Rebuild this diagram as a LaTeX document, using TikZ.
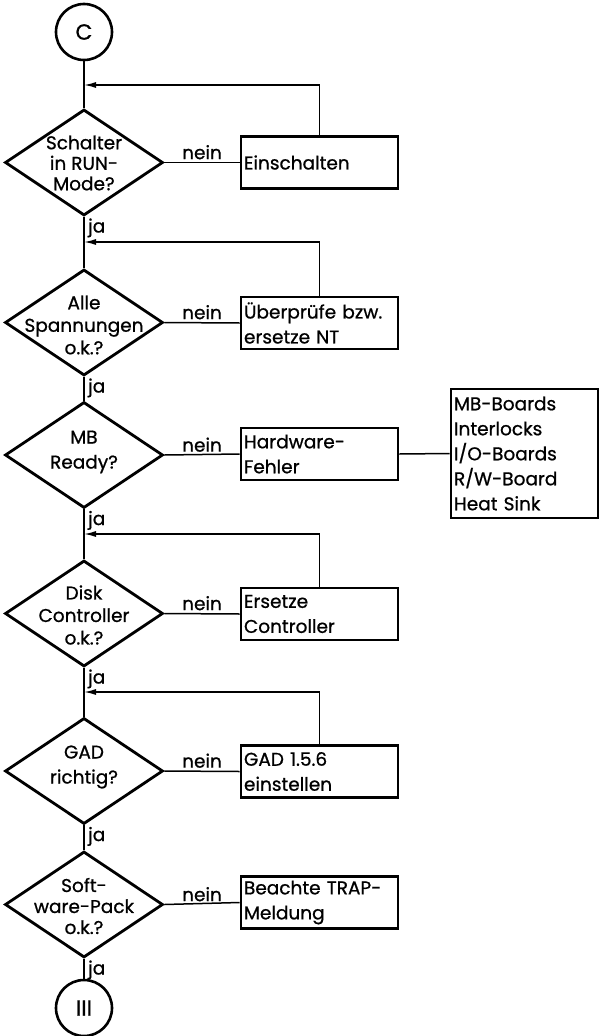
\documentclass[tikz,border=0pt]{standalone}
\usepackage{fontspec}
\setmainfont{Poppins}[FakeBold=0.8]
\usetikzlibrary{shapes.geometric,arrows.meta,calc}
\begin{document}
\begin{tikzpicture}[x=1pt,y=-1pt,
  txt/.style={font=\fontsize{18.5}{21}\selectfont, inner sep=0pt},
  dec/.style={draw, line width=2.8pt, diamond, minimum width=158pt, minimum height=106pt, inner sep=0pt},
  txtd/.style={txt, align=center},
  box/.style={draw, line width=2.6pt, rectangle, minimum width=157pt, minimum height=52pt, text width=151pt, inner xsep=3pt, inner ysep=0pt, align=left, font=\fontsize{18.5}{25}\selectfont},
  conn/.style={draw, line width=1.5pt},
  arr/.style={conn, -{Latex[length=12pt,width=6pt]}},
  lbl/.style={txt},
  term/.style={draw, circle, line width=2.6pt, minimum size=56pt, inner sep=0pt, font=\fontsize{22}{24}\selectfont}
]
\useasboundingbox (0,0) rectangle (601,1036);

% start / end connectors
\node[term] (c) at (84,32) {C};
\node[term] (iii) at (84,1008) {III};

% decisions
\node[dec] (d1) at (84,162.5) {};
\node[txtd, font=\fontsize{18.5}{20.5}\selectfont] (d1t) at (84,163) {Schalter\\in RUN-\\Mode?};
\node[dec] (d2) at (84,322.5) {};
\node[txtd, font=\fontsize{18.5}{22.5}\selectfont] (d2t) at (84,325) {Alle\\Spannungen\\o.k.?};
\node[dec] (d3) at (84,455) {};
\node[txtd, font=\fontsize{18.5}{25}\selectfont] (d3t) at (84,452) {MB\\Ready?};
\node[dec] (d4) at (84,613.5) {};
\node[txtd, font=\fontsize{18.5}{22.5}\selectfont] (d4t) at (84,615) {Disk\\Controller\\o.k.?};
\node[dec] (d5) at (84,771) {};
\node[txtd, font=\fontsize{18.5}{25}\selectfont] (d5t) at (84,767) {GAD\\richtig?};
\node[dec] (d6) at (84,904.5) {};
\node[txtd, font=\fontsize{18.5}{21}\selectfont] (d6t) at (84,906) {Soft-\\ware-Pack\\o.k.?};

% boxes
\node[box] (b1) at (319.5,162.5) {Einschalten};
\node[box] (b2) at (319.5,323) {Überprüfe bzw.\\ersetze NT};
\node[box] (b3) at (319.5,454) {Hardware-\\Fehler};
\node[box] (b4) at (319.5,614) {Ersetze\\Controller};
\node[box] (b5) at (319.5,771.5) {GAD 1.5.6\\einstellen};
\node[box] (b6) at (319.5,902.5) {Beachte TRAP-\\Meldung};
\node[box, minimum width=147pt, text width=141pt, minimum height=129pt] (mb) at (524.5,453.5) {MB-Boards\\Interlocks\\I/O-Boards\\R/W-Board\\Heat Sink};

% junctions
\coordinate (j1) at (84,85);
\coordinate (j2) at (84,242);
\coordinate (j4) at (84,534);
\coordinate (j5) at (84,692);

% main line
\draw[conn] (c) -- (d1.north);
\draw[conn] (d1.south) -- (d2.north);
\draw[conn] (d2.south) -- (d3.north);
\draw[conn] (d3.south) -- (d4.north);
\draw[conn] (d4.south) -- (d5.north);
\draw[conn] (d5.south) -- (d6.north);
\draw[conn] (d6.south) -- (iii);

% nein branches
\draw[conn] (d1.east) -- (b1.west);
\draw[conn] (d2.east) -- (b2.west);
\draw[conn] (d3.east) -- (b3.west);
\draw[conn] (d4.east) -- (b4.west);
\draw[conn] (d5.east) -- (b5.west);
\draw[conn] (d6.east) -- (b6.west);
\draw[conn] (b3.east) -- (mb.west);

% feedback loops
\draw[arr] (b1.north) |- (j1);
\draw[arr] (b2.north) |- (j2);
\draw[arr] (b4.north) |- (j4);
\draw[arr] (b5.north) |- (j5);

% labels
\foreach \d in {d1,d2,d3,d4,d5,d6}{
  \node[lbl, anchor=south] (n\d) at ($(\d.east)!0.5!(\d.east -| b1.west)+(0,-3)$) {nein};
  \node[lbl, anchor=west] (j\d) at ($(\d.south)+(4,11)$) {ja};
}
\end{tikzpicture}
\end{document}
